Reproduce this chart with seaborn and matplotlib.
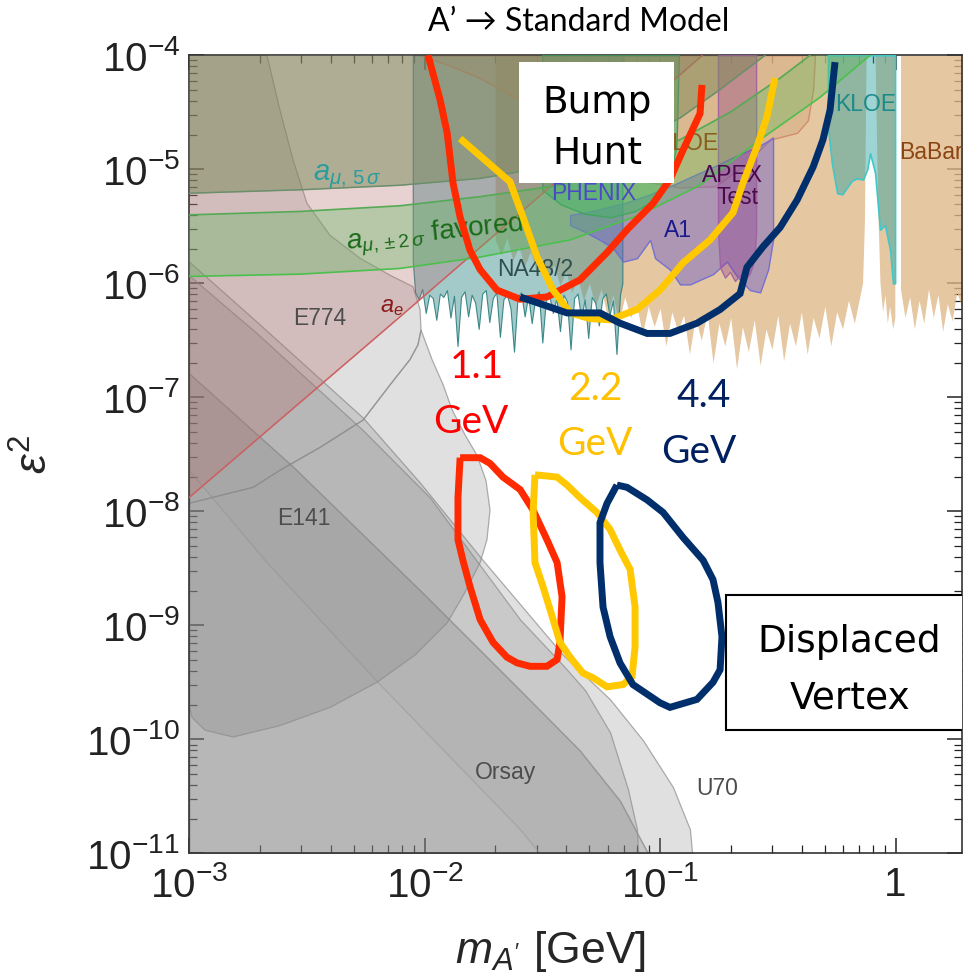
import numpy as np
import matplotlib
matplotlib.use("Agg")
import matplotlib.pyplot as plt
from matplotlib.colors import to_rgba
from matplotlib.patches import Rectangle
from matplotlib.ticker import FixedLocator, FixedFormatter, LogLocator, NullFormatter
import seaborn as sns

sns.set_style("ticks")
plt.rcParams['font.family'] = ['Liberation Sans', 'DejaVu Sans']
plt.rcParams['mathtext.fontset'] = 'custom'
plt.rcParams['mathtext.rm'] = 'Liberation Sans'
plt.rcParams['mathtext.it'] = 'Liberation Sans:italic'
plt.rcParams['mathtext.bf'] = 'Liberation Sans:bold'

# --- values: log10(m_A' / GeV) and log10(eps^2) ---

# axis ticks
xtick_vals = [1e-3, 1e-2, 1e-1, 1.0]
xtick_labels = [r'$10^{-3}$', r'$10^{-2}$', r'$10^{-1}$', '1']
ytick_vals = [1e-11, 1e-10, 1e-9, 1e-8, 1e-7, 1e-6, 1e-5, 1e-4]
ytick_labels = [r'$10^{-11}$', r'$10^{-10}$', r'$10^{-9}$', r'$10^{-8}$',
                r'$10^{-7}$', r'$10^{-6}$', r'$10^{-5}$', r'$10^{-4}$']

# beam dumps
e137_logm = [-3.0, -2.558, -2.006, -1.594, -1.340, -1.170, -1.051]
e137_logeps = [-6.79, -7.61, -8.72, -9.57, -10.10, -10.54, -11.0]
orsay_low_logm = [-3.0, -2.669, -2.189, -1.594, -1.510]
orsay_low_logeps = [-7.64, -8.45, -9.52, -10.79, -11.0]
u70_logm = [-3.0, -2.711, -2.261, -2.019, -1.752, -1.412, -1.212, -1.072, -0.945, -0.873, -0.864]
u70_logeps = [-5.81, -6.34, -7.18, -7.75, -8.43, -9.26, -9.65, -10.01, -10.42, -10.79, -11.0]
u70in_logm = [-3.0, -2.711, -2.261, -1.977, -1.594, -1.412, -1.318, -1.212, -1.136, -1.098, -1.093]
u70in_logeps = [-5.93, -6.44, -7.29, -7.88, -8.95, -9.35, -9.57, -9.94, -10.44, -10.79, -11.0]
e774_logm = [-3.0, -2.669, -2.614, -2.558, -2.499, -2.401, -2.274, -2.146, -2.049, -2.019,
             -2.015, -2.028, -2.062, -2.146, -2.261, -2.444, -2.614, -2.728, -3.0]
e774_logeps = [-4.0, -4.0, -4.48, -4.92, -5.30, -5.58, -5.78, -5.93, -6.03, -6.23,
               -6.41, -6.54, -6.67, -6.89, -7.20, -7.44, -7.64, -7.79, -7.93]
e141_logm = [-3.0, -2.728, -2.614, -2.444, -2.261, -2.146, -2.062, -2.028, -2.015,
             -1.968, -1.921, -1.883, -1.828, -1.777, -1.739, -1.722, -1.735, -1.764,
             -1.828, -1.904, -2.040, -2.202, -2.401, -2.614, -2.813, -2.932, -2.987, -3.0]
e141_logeps = [-7.93, -7.79, -7.64, -7.44, -7.20, -6.89, -6.67, -6.54, -6.41,
               -6.67, -6.89, -7.11, -7.33, -7.51, -7.73, -7.99, -8.25, -8.45,
               -8.71, -8.98, -9.26, -9.50, -9.72, -9.88, -9.98, -9.92, -9.81, -9.70]

# BaBar (three pieces, lower edge)
babar_l_logm = [-1.700, -1.675, -1.650, -1.625, -1.600, -1.575, -1.550, -1.525, -1.500, -1.475,
                -1.450, -1.425, -1.400, -1.375, -1.350, -1.325, -1.300, -1.275, -1.250, -1.225,
                -1.200, -1.175, -1.150, -1.125, -1.100, -1.075, -1.050, -1.025, -1.000, -0.975,
                -0.950, -0.925, -0.900, -0.875, -0.850, -0.825, -0.800, -0.775, -0.750, -0.725,
                -0.700, -0.675, -0.650, -0.625, -0.600, -0.575, -0.550, -0.525, -0.500, -0.475,
                -0.450, -0.425, -0.400, -0.375, -0.350, -0.325, -0.300, -0.275, -0.250, -0.225,
                -0.200, -0.175, -0.150, -0.140, -0.132, -0.125]
babar_l_logeps = [-5.62, -5.75, -5.60, -5.80, -5.68, -5.85, -5.72, -5.90, -5.78, -5.95,
                  -5.84, -6.02, -5.90, -6.08, -5.95, -6.15, -6.00, -6.20, -6.05, -6.28,
                  -6.10, -6.35, -6.12, -6.30, -6.18, -6.45, -6.20, -6.38, -6.22, -6.55,
                  -6.25, -6.42, -6.28, -6.62, -6.30, -6.50, -6.26, -6.70, -6.35, -6.55,
                  -6.30, -6.75, -6.38, -6.60, -6.32, -6.72, -6.40, -6.58, -6.28, -6.68,
                  -6.35, -6.55, -6.25, -6.62, -6.30, -6.48, -6.20, -6.55, -6.25, -6.40,
                  -6.15, -6.35, -6.10, -6.00, -5.45, -4.0]
babar_m_logm = [-0.087, -0.080, -0.074, -0.066, -0.055, -0.045, -0.035, -0.025, -0.012, -0.003]
babar_m_logeps = [-4.0, -4.83, -5.45, -6.0, -6.25, -6.10, -6.35, -6.20, -6.40, -6.30]
babar_r_logm = [0.021, 0.04, 0.06, 0.08, 0.10, 0.12, 0.14, 0.16, 0.18, 0.20, 0.22, 0.24, 0.26, 0.29]
babar_r_logeps = [-6.05, -6.30, -6.12, -6.40, -6.15, -6.35, -6.05, -6.30, -6.10, -6.42,
                  -6.18, -6.33, -6.08, -6.25]

# NA48/2 lower edge
na48_logm = [-2.05,
             -2.040, -2.025, -2.010, -1.995, -1.980, -1.965, -1.950, -1.935, -1.920, -1.905,
             -1.890, -1.875, -1.860, -1.845, -1.830, -1.815, -1.800, -1.785, -1.770, -1.755,
             -1.740, -1.725, -1.710, -1.695, -1.680, -1.665, -1.650, -1.635, -1.620, -1.605,
             -1.590, -1.575, -1.560, -1.545, -1.530, -1.515, -1.500, -1.485, -1.470, -1.455,
             -1.440, -1.425, -1.410, -1.395, -1.380, -1.365, -1.350, -1.335, -1.320, -1.305,
             -1.290, -1.275, -1.260, -1.245, -1.230, -1.215, -1.200, -1.185, -1.170,
             -1.16]
na48_logeps = [-5.80,
               -6.08, -6.14, -6.05, -6.26, -6.10, -6.13, -6.32, -6.09, -6.12, -6.06,
               -6.30, -6.11, -6.55, -6.12, -6.07, -6.29, -6.10, -6.17, -6.40, -6.09,
               -6.06, -6.34, -6.13, -6.08, -6.47, -6.14, -6.10, -6.22, -6.60, -6.12,
               -6.08, -6.29, -6.11, -6.35, -6.13, -6.07, -6.52, -6.15, -6.11, -6.26,
               -6.13, -6.42, -6.10, -6.16, -6.58, -6.13, -6.09, -6.31, -6.14, -6.48,
               -6.12, -6.17, -6.37, -6.13, -6.09, -6.28, -6.15, -6.62, -6.10,
               -6.00]

# KLOE (phi decays, brown) lower edge
kloe_b_logm = [-2.019, -1.892, -1.764, -1.594, -1.425, -1.255, -1.085, -0.915, -0.766,
               -0.639, -0.533, -0.418, -0.372, -0.350, -0.342]
kloe_b_logeps = [-4.0, -4.09, -4.20, -4.39, -4.66, -4.92, -5.10, -5.16, -5.15,
                 -4.96, -4.74, -4.68, -4.57, -4.30, -4.0]
# KLOE (teal) lower edge
kloe_t_logm = [-0.287, -0.270, -0.248, -0.226, -0.206, -0.185, -0.164, -0.138, -0.120,
               -0.108, -0.087, -0.066, -0.045, -0.023, -0.011, -0.002]
kloe_t_logeps = [-4.63, -4.95, -5.21, -5.22, -5.16, -5.10, -5.08, -5.09, -5.00,
                 -4.86, -5.03, -5.53, -5.49, -5.71, -6.0, -6.0]
# PHENIX lower edge
phenix_logm = [-1.50, -1.42, -1.32, -1.21, -1.11, -1.02, -0.96, -0.93, -0.92]
phenix_logeps = [-5.18, -5.31, -5.39, -5.42, -5.37, -5.27, -5.08, -4.80, -4.0]
# A1 band
a1_logm = [-1.382, -1.318, -1.255, -1.200, -1.157, -1.098, -1.042, -1.021, -0.958, -0.915,
           -0.873, -0.830, -0.775, -0.716, -0.673, -0.618, -0.575, -0.541, -0.520]
a1_low = [-5.49, -5.55, -5.62, -5.69, -5.81, -5.78, -5.62, -5.78, -5.88, -6.01,
          -6.01, -5.97, -5.92, -5.81, -5.94, -6.06, -6.08, -5.88, -5.62]
a1_high = [-5.40, -5.38, -5.35, -5.32, -5.30, -5.26, -5.22, -5.20, -5.15, -5.11,
           -5.07, -5.03, -4.98, -4.92, -4.88, -4.83, -4.79, -4.75, -4.72]
# APEX test run
apex_logm = [-0.754, -0.745, -0.724, -0.703, -0.682, -0.660, -0.639, -0.618, -0.600, -0.592]
apex_logeps = [-5.55, -5.86, -5.95, -5.90, -5.98, -5.93, -5.97, -5.91, -5.80, -5.55]

# electron and muon g-2
ae_logm = [-3.0, -2.13, -0.82]
ae_logeps = [-7.88, -6.34, -4.0]
amu5_logm = [-3.0, -2.529, -2.104, -1.764, -1.425, -1.170, -0.915, -0.745, -0.554]
amu5_logeps = [-5.21, -5.18, -5.14, -5.08, -4.96, -4.81, -4.55, -4.30, -4.0]
fav_hi_logm = [-3.0, -2.529, -2.104, -1.764, -1.425, -1.170, -0.915, -0.703, -0.490, -0.363]
fav_hi_logeps = [-5.40, -5.37, -5.32, -5.24, -5.14, -4.99, -4.74, -4.50, -4.20, -4.0]
fav_lo_logm = [-3.0, -2.529, -2.104, -1.764, -1.382, -1.085, -0.830, -0.575, -0.321, -0.108]
fav_lo_logeps = [-5.94, -5.92, -5.87, -5.77, -5.62, -5.40, -5.14, -4.74, -4.37, -4.0]

# HPS reach: bump hunt
red_bump_logm = [-1.985, -1.934, -1.904, -1.879, -1.849, -1.807, -1.764, -1.692, -1.594,
                 -1.480, -1.340, -1.225, -1.140, -1.030, -0.958, -0.902, -0.830, -0.822]
red_bump_logeps = [-4.0, -4.39, -4.68, -5.12, -5.42, -5.71, -5.88, -6.06, -6.14,
                   -6.12, -5.97, -5.73, -5.53, -5.30, -5.09, -4.83, -4.51, -4.26]
yel_bump_logm = [-1.849, -1.743, -1.637, -1.582, -1.522, -1.454, -1.382, -1.297, -1.212,
                 -1.098, -1.000, -0.902, -0.788, -0.690, -0.648, -0.588, -0.546, -0.512]
yel_bump_logeps = [-4.73, -4.92, -5.11, -5.42, -5.77, -6.06, -6.26, -6.31, -6.32,
                   -6.23, -6.06, -5.82, -5.62, -5.38, -5.12, -4.80, -4.54, -4.20]
nav_bump_logm = [-1.594, -1.522, -1.395, -1.255, -1.170, -1.055, -0.958, -0.843, -0.745,
                 -0.660, -0.631, -0.563, -0.490, -0.418, -0.350, -0.308, -0.278, -0.257]
nav_bump_logeps = [-6.12, -6.17, -6.26, -6.26, -6.35, -6.44, -6.44, -6.35, -6.23,
                   -6.09, -5.86, -5.68, -5.51, -5.27, -4.98, -4.74, -4.48, -4.06]
# HPS reach: displaced vertex
red_dv_logm = [-1.849, -1.764, -1.722, -1.667, -1.594, -1.539, -1.480, -1.437, -1.416, -1.425, -1.437,
               -1.480, -1.552, -1.607, -1.650, -1.709, -1.764, -1.807, -1.837, -1.858, -1.858, -1.849]
red_dv_logeps = [-7.53, -7.53, -7.58, -7.70, -7.81, -7.99, -8.25, -8.45, -8.75, -9.15, -9.30,
                 -9.36, -9.36, -9.33, -9.28, -9.15, -8.95, -8.66, -8.43, -8.25, -7.88, -7.53]
yel_dv_logm = [-1.531, -1.437, -1.395, -1.340, -1.268, -1.212, -1.170, -1.127, -1.106, -1.106, -1.119,
               -1.157, -1.225, -1.285, -1.327, -1.382, -1.425, -1.454, -1.497, -1.531, -1.539, -1.531]
yel_dv_logeps = [-7.68, -7.70, -7.77, -7.88, -8.01, -8.16, -8.34, -8.51, -8.84, -9.19, -9.45,
                 -9.52, -9.54, -9.46, -9.42, -9.28, -9.15, -8.95, -8.66, -8.45, -8.01, -7.68]
nav_dv_logm = [-1.183, -1.140, -1.055, -0.987, -0.902, -0.817, -0.775, -0.754, -0.737, -0.745, -0.775,
               -0.843, -0.958, -1.000, -1.115, -1.170, -1.212, -1.242, -1.255, -1.255, -1.225, -1.183]
nav_dv_logeps = [-7.77, -7.79, -7.90, -8.01, -8.23, -8.43, -8.60, -8.80, -9.10, -9.39, -9.50,
                 -9.65, -9.72, -9.68, -9.52, -9.33, -9.10, -8.84, -8.45, -8.10, -7.93, -7.77]


def P(v):
    return np.power(10.0, np.asarray(v, dtype=float))


TOP, BOT = 1e-4, 1e-11
RED, YEL, NAVY = '#ff2a00', '#ffc800', '#002f6c'

fig = plt.figure(figsize=(9.63, 9.8), dpi=100)
ax = fig.add_axes([0.1963, 0.1293, 0.8027, 0.8143])
ax.set_xscale('log')
ax.set_yscale('log')
ax.set_xlim(1e-3, 10 ** 0.2824)
ax.set_ylim(BOT, TOP)
ax.set_facecolor('white')

# beam dumps (grey, semi transparent)
gfc = to_rgba('#808080', 0.24)
gec = to_rgba('#8c8c8c', 0.7)
ax.fill_between(P(e137_logm), BOT, P(e137_logeps), facecolor=gfc, edgecolor=gec, lw=0.9, zorder=1)
ax.fill_between(P(u70_logm), BOT, P(u70_logeps), facecolor=gfc, edgecolor=gec, lw=0.9, zorder=1)
ax.fill_between(P(u70in_logm), BOT, P(u70in_logeps), facecolor=gfc, edgecolor=gec, lw=0.9, zorder=1)
ax.fill(P(np.r_[e137_logm, orsay_low_logm[::-1]]), P(np.r_[e137_logeps, orsay_low_logeps[::-1]]),
        facecolor=to_rgba('#808080', 0.05), edgecolor=to_rgba('#9a9a9a', 0.6), lw=0.9, zorder=1)
ax.fill(P(e141_logm), P(e141_logeps), facecolor=gfc, edgecolor=gec, lw=0.9, zorder=1)
ax.fill(P(e774_logm), P(e774_logeps), facecolor=gfc, edgecolor=gec, lw=0.9, zorder=1)

# BaBar
bfc = to_rgba('#deb887', 0.78)
for xm, ye in [(babar_l_logm, babar_l_logeps), (babar_m_logm, babar_m_logeps), (babar_r_logm, babar_r_logeps)]:
    ax.fill_between(P(xm), P(ye), TOP, facecolor=bfc, lw=0, zorder=2)

# NA48/2
ax.fill_between(P(na48_logm), P(na48_logeps), TOP, facecolor=to_rgba('#4a9595', 0.5),
                edgecolor=to_rgba('#2a7f7f', 0.9), lw=0.8, zorder=2.2)
# KLOE brown
ax.fill_between(P(kloe_b_logm), P(kloe_b_logeps), TOP, facecolor=to_rgba('#c8966a', 0.3),
                edgecolor=to_rgba('#d08868', 0.9), lw=1.0, zorder=2.4)
# A1
ax.fill_between(P(a1_logm), P(a1_low), P(a1_high), facecolor=to_rgba('#6a5acd', 0.45),
                edgecolor=to_rgba('#6b6bd6', 0.9), lw=1.0, zorder=2.6)
# APEX
ax.fill_between(P(apex_logm), P(apex_logeps), TOP, facecolor=to_rgba('#8b3a8b', 0.35),
                edgecolor=to_rgba('#a060a0', 0.9), lw=1.0, zorder=2.7)
# PHENIX
ax.fill_between(P(phenix_logm), P(phenix_logeps), TOP, facecolor=to_rgba('#3cb371', 0.5),
                edgecolor=to_rgba('#2e9e5e', 0.9), lw=1.0, zorder=2.8)
# KLOE teal
ax.fill_between(P(kloe_t_logm), P(kloe_t_logeps), TOP, facecolor=to_rgba('#2aa0a0', 0.45),
                edgecolor='#40c8c8', lw=1.2, zorder=2.9)

# a_e
ax.fill_between(P(ae_logm), P(ae_logeps), TOP, facecolor=to_rgba('#b26969', 0.3), lw=0, zorder=3.0)
ax.plot(P(ae_logm), P(ae_logeps), color='#cc6060', lw=1.1, zorder=3.0)
# a_mu 5 sigma
ax.fill_between(P(amu5_logm), P(amu5_logeps), TOP, facecolor=to_rgba('#7a8a5a', 0.5), lw=0, zorder=3.1)
ax.plot(P(amu5_logm), P(amu5_logeps), color='#6b8f6b', lw=1.1, zorder=3.1)
# a_mu favored band
ax.fill(P(np.r_[fav_hi_logm, fav_lo_logm[::-1]]), P(np.r_[fav_hi_logeps, fav_lo_logeps[::-1]]),
        facecolor=to_rgba('#5cb85c', 0.35), lw=0, zorder=3.2)
ax.plot(P(fav_hi_logm), P(fav_hi_logeps), color='#55aa55', lw=1.2, zorder=3.2)
ax.plot(P(fav_lo_logm), P(fav_lo_logeps), color='#4cc04c', lw=1.2, zorder=3.2)

# region labels
lab = dict(fontsize=16.5, ha='center', va='center', zorder=4)
ax.text(0.0036, 4.9e-7, 'E774', color='#4d4d4d', **lab)
ax.text(0.00308, 8.7e-9, 'E141', color='#4d4d4d', **lab)
ax.text(0.0220, 5.1e-11, 'Orsay', color='#4d4d4d', **lab)
ax.text(0.1746, 3.7e-11, 'U70', color='#4d4d4d', **lab)
ax.text(0.0294, 1.33e-6, 'NA48/2', color='#2f4f4f', **lab)
ax.text(0.0525, 6.07e-6, 'PHENIX', color='#4a4ac8', **lab)
ax.text(0.119, 2.88e-6, 'A1', color='#1a1a8c', **lab)
ax.text(0.204, 8.9e-6, 'APEX', color='#4b0a4b', **lab)
ax.text(0.214, 5.6e-6, 'Test', color='#4b0a4b', **lab)
ax.text(0.1315, 1.7e-5, 'KLOE', color='#8b5a1e', **lab)
ax.text(0.750, 3.7e-5, 'KLOE', color='#1a8a8a', **lab)
ax.text(1.415, 1.41e-5, 'BaBar', color='#8b4513', **lab)
ax.text(0.003365, 8.05e-6, r'$a_{\mu,\,5\,\sigma}$', color='#2a9d9d', fontsize=21,
        ha='left', va='baseline', zorder=4)
ax.text(0.00469, 1.96e-6, r'$a_{\mu,\pm2\,\sigma}$ favored', color='#1a6a1a', fontsize=20,
        ha='left', va='baseline', rotation=6, rotation_mode='anchor', zorder=4)
ax.text(0.00647, 5.6e-7, r'$a_e$', color='#8b1a1a', fontsize=17, ha='left', va='baseline', zorder=4)

# HPS curves
curves = [(red_bump_logm, red_bump_logeps, RED), (yel_bump_logm, yel_bump_logeps, YEL),
          (nav_bump_logm, nav_bump_logeps, NAVY), (red_dv_logm, red_dv_logeps, RED),
          (yel_dv_logm, yel_dv_logeps, YEL), (nav_dv_logm, nav_dv_logeps, NAVY)]
for xm, ye, c in curves:
    sns.lineplot(x=P(xm), y=P(ye), sort=False, estimator=None, color=c, lw=5,
                 solid_joinstyle='miter', solid_capstyle='butt', ax=ax, zorder=5)

# beam energy labels
big = dict(fontsize=28, ha='center', va='baseline', family=['Lato', 'DejaVu Sans'], zorder=5)
ax.text(0.0167, 1.48e-7, '1.1', color='#ff0000', **big)
ax.text(0.0157, 4.9e-8, 'GeV', color='#ff0000', **big)
ax.text(0.0530, 9.5e-8, '2.2', color='#ffc000', **big)
ax.text(0.0530, 3.1e-8, 'GeV', color='#ffc000', **big)
ax.text(0.1538, 8.3e-8, '4.4', color='#002060', **big)
ax.text(0.1466, 2.63e-8, 'GeV', color='#002060', **big)

# boxes
ax.add_patch(Rectangle((0.4269, 0.8400), 0.2005, 0.1516, transform=ax.transAxes,
                       facecolor='white', edgecolor='none', zorder=6))
ax.add_patch(Rectangle((0.6947, 0.1545), 0.34, 0.1692, transform=ax.transAxes,
                       facecolor='white', edgecolor='black', lw=1.5, zorder=6))
box = dict(fontsize=27, ha='center', va='baseline', color='black', transform=ax.transAxes,
           family=['DejaVu Sans'], zorder=7)
ax.text(0.528, 0.9277, 'Bump', **box)
ax.text(0.528, 0.865, 'Hunt', **box)
ax.text(0.854, 0.2523, 'Displaced', **box)
ax.text(0.855, 0.182, 'Vertex', **box)

# title
ax.text(0.5045, 1.0417, 'A\u2019 \u2192 Standard Model', transform=ax.transAxes, ha='center',
        va='center', fontsize=23, family=['Lato', 'DejaVu Sans'], color='black')

# axes styling
ax.xaxis.set_major_locator(FixedLocator(xtick_vals))
ax.xaxis.set_major_formatter(FixedFormatter(xtick_labels))
ax.xaxis.set_minor_locator(LogLocator(base=10, subs=np.arange(2, 10)))
ax.xaxis.set_minor_formatter(NullFormatter())
ax.yaxis.set_major_locator(FixedLocator(ytick_vals))
ax.yaxis.set_major_formatter(FixedFormatter(ytick_labels))
ax.yaxis.set_minor_locator(LogLocator(base=10, subs=np.arange(2, 10), numticks=20))
ax.yaxis.set_minor_formatter(NullFormatter())
ax.tick_params(which='both', direction='in', top=True, right=True, colors='#222222')
ax.tick_params(which='major', length=11, width=1.1, labelsize=29)
ax.tick_params(which='minor', length=5.5, width=0.9)
ax.tick_params(axis='y', which='major', pad=6.5)
ax.tick_params(axis='x', which='major', pad=9)
for s in ax.spines.values():
    s.set_color('#333333')
    s.set_linewidth(1.2)

ax.set_xlabel(r"$m_{A^{\prime}}$ [GeV]", fontsize=32)
ax.xaxis.set_label_coords(0.468, -0.095)
ax.set_ylabel(r'$\varepsilon^2$', fontsize=32)
ax.yaxis.set_label_coords(-0.171, 0.50)

fig.savefig('out.png', dpi=100)
